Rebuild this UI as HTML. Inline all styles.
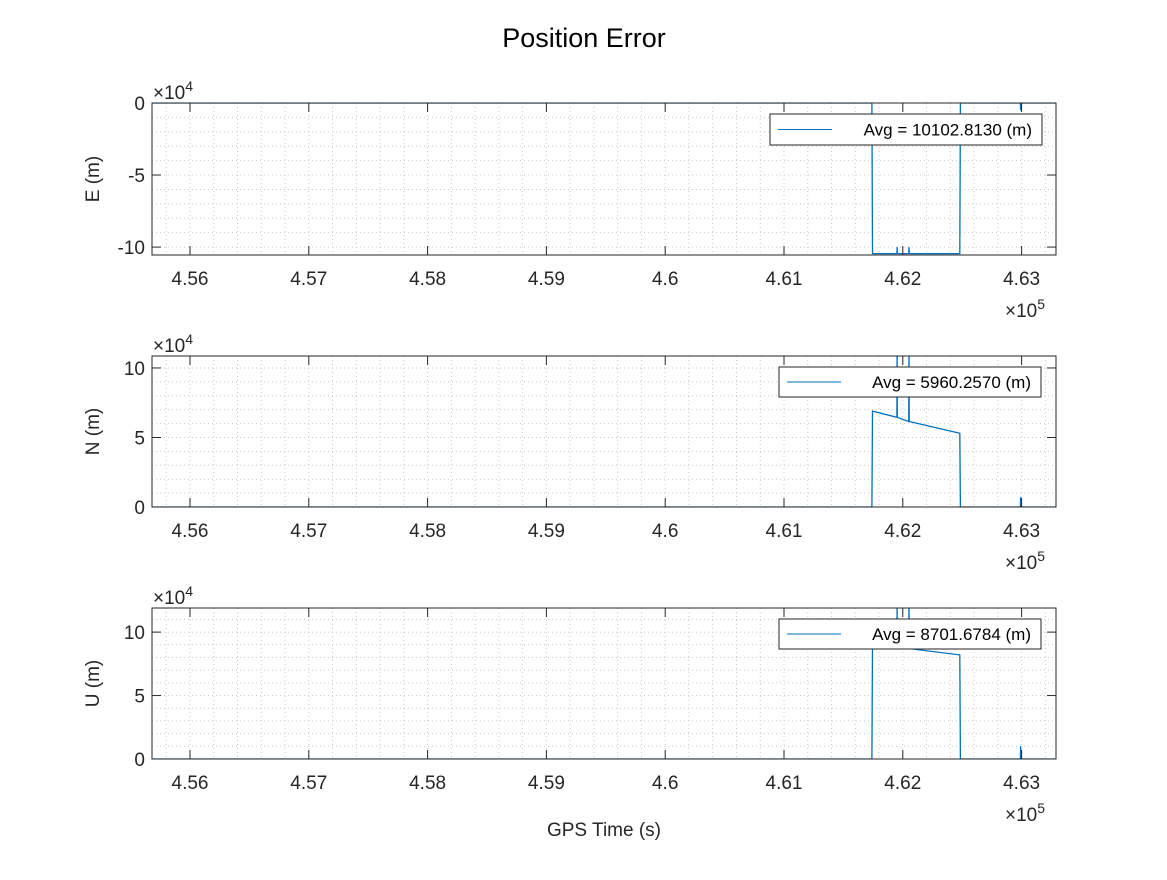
<!DOCTYPE html>
<html><head><meta charset="utf-8"><style>
body{margin:0;background:#fff;}
svg text{font-family:"Liberation Sans",Arial,sans-serif;fill:#262626;}
</style></head><body>
<svg id="fig" width="1167" height="875" viewBox="0 0 1167 875" xmlns="http://www.w3.org/2000/svg">
<rect width="1167" height="875" fill="#fff"/>
<text x="584" y="47" font-size="27" text-anchor="middle" style="fill:#000">Position Error</text>
<text x="604" y="836" font-size="19" text-anchor="middle">GPS Time (s)</text>
</svg>
<script>
// shared x data (units of 1e5 s)
const xTicks = [4.56, 4.57, 4.58, 4.59, 4.6, 4.61, 4.62, 4.63];
const xTickLabels = ["4.56","4.57","4.58","4.59","4.6","4.61","4.62","4.63"];
// E series
const tE = [4.5568, 4.6174, 4.61745, 4.6195, 4.61952, 4.61954, 4.6205, 4.62052, 4.62054, 4.6248, 4.62485, 4.6250, 4.6299, 4.62992, 4.62994, 4.6329];
const vE = [0, 0, -10.45, -10.45, -10.0, -10.45, -10.45, -10.0, -10.45, -10.45, 0, 0, 0, -0.5, 0, 0];
// N series
const tN = [4.5568, 4.6174, 4.61745, 4.6195, 4.61952, 4.61954, 4.6205, 4.62052, 4.62054, 4.6248, 4.62485, 4.6299, 4.62992, 4.62994, 4.6329];
const vN = [0, 0, 6.9, 6.45, 11.5, 6.45, 6.15, 11.5, 6.15, 5.3, 0, 0, 0.7, 0, 0];
// U series
const tU = [4.5568, 4.6174, 4.61745, 4.6195, 4.61952, 4.61954, 4.6205, 4.62052, 4.62054, 4.6248, 4.62485, 4.6299, 4.62992, 4.62994, 4.6329];
const vU = [0, 0, 9.2, 8.9, 12.5, 8.9, 8.7, 12.5, 8.7, 8.2, 0, 0, 1.0, 0, 0];
const yTicksE = [-10, -5, 0];
const yTicksN = [0, 5, 10];
const yTicksU = [0, 5, 10];
const avgLabels = ["Avg = 10102.8130 (m)", "Avg = 5960.2570 (m)", "Avg = 8701.6784 (m)"];

const NS = "http://www.w3.org/2000/svg";
const svg = document.getElementById('fig');
const L = 152, R = 1056;
const xScale = t => 190 + (t - 4.56) * 11880;
function mk(tag, attrs, parent){const e=document.createElementNS(NS,tag);for(const k in attrs)e.setAttribute(k,attrs[k]);(parent||svg).appendChild(e);return e;}

const panels = [
 {name:'e', label:'E (m)', top:103, bot:255, ymin:-10.55, ymax:0, t:tE, v:vE, ticks:yTicksE, leg:[770,114,272,31], avg:avgLabels[0]},
 {name:'n', label:'N (m)', top:356, bot:507, ymin:0, ymax:10.86, t:tN, v:vN, ticks:yTicksN, leg:[779,367,262,30], avg:avgLabels[1]},
 {name:'u', label:'U (m)', top:608, bot:759, ymin:0, ymax:11.9, t:tU, v:vU, ticks:yTicksU, leg:[779,619,262,30], avg:avgLabels[2]}
];
panels.forEach((p,i)=>{
  const g = mk('g',{});
  
  
  const ys = v => p.bot - (v - p.ymin)/(p.ymax - p.ymin)*(p.bot - p.top);
  const cp = mk('clipPath',{id:'clip'+i},g);
  mk('rect',{x:L,y:p.top,width:R-L,height:p.bot-p.top},cp);
  for(let t=4.556; t<=4.6332; t+=0.002){const x=xScale(t); if(x<=L+0.5||x>=R-0.5) continue;
    mk('line',{x1:x,x2:x,y1:p.top,y2:p.bot,stroke:'#c8c8c8','stroke-width':1,'stroke-dasharray':'1,3'},g);}
  for(let v=Math.ceil(p.ymin); v<=p.ymax; v+=1){const y=ys(v); if(y>=p.bot-0.5||y<=p.top+0.5) continue;
    mk('line',{x1:L,x2:R,y1:y,y2:y,stroke:'#c8c8c8','stroke-width':1,'stroke-dasharray':'1,3'},g);}
  let d='';
  p.t.forEach((t,k)=>{d+=(k?'L':'M')+xScale(t).toFixed(1)+','+ys(p.v[k]).toFixed(1);});
  const path = mk('path',{d:d,fill:'none',stroke:'#0072BD','stroke-width':1.3,'clip-path':'url(#clip'+i+')'},g);
  
  
  mk('rect',{x:L,y:p.top,width:R-L,height:p.bot-p.top,fill:'none',stroke:'#262626','stroke-width':1},g);
  xTicks.forEach((t,k)=>{const x=xScale(t);
    mk('line',{x1:x,x2:x,y1:p.bot,y2:p.bot-9,stroke:'#262626'},g);
    mk('line',{x1:x,x2:x,y1:p.top,y2:p.top+9,stroke:'#262626'},g);
    const tx = mk('text',{x:x,y:p.bot+30,'font-size':19,'text-anchor':'middle'},g);
    tx.textContent = xTickLabels[k];
    
    
  });
  p.ticks.forEach(v=>{const y=ys(v);
    mk('line',{x1:L,x2:L+9,y1:y,y2:y,stroke:'#262626'},g);
    mk('line',{x1:R,x2:R-9,y1:y,y2:y,stroke:'#262626'},g);
    const tx = mk('text',{x:L-7,y:y+7,'font-size':19,'text-anchor':'end'},g);
    tx.textContent = String(v);
    
    
  });
  const ex = mk('text',{x:L+1,y:p.top-4,'font-size':19},g);
  ex.innerHTML = '×10<tspan dy="-8" font-size="14">4</tspan>';
  
  
  const ex5 = mk('text',{x:1005,y:p.bot+62,'font-size':19},g);
  ex5.innerHTML = '×10<tspan dy="-8" font-size="14">5</tspan>';
  
  
  const cy=(p.top+p.bot)/2;
  const yl = mk('text',{x:0,y:0,'font-size':19,'text-anchor':'middle',transform:'translate(99,'+cy+') rotate(-90)'},g);
  yl.textContent = p.label;
  
  
  const lg = mk('g',{},g);
  
  
  mk('rect',{x:p.leg[0],y:p.leg[1],width:p.leg[2],height:p.leg[3],fill:'#fff',stroke:'#262626','stroke-width':1},lg);
  mk('line',{x1:p.leg[0]+8,x2:p.leg[0]+62,y1:p.leg[1]+p.leg[3]/2,y2:p.leg[1]+p.leg[3]/2,stroke:'#0072BD','stroke-width':1},lg);
  const lt = mk('text',{x:p.leg[0]+p.leg[2]-10,y:p.leg[1]+p.leg[3]/2+6,'font-size':17,'text-anchor':'end'},lg);
  lt.textContent = p.avg;
  lt.style.fill = '#000';
  
  
});
</script>
</body></html>
